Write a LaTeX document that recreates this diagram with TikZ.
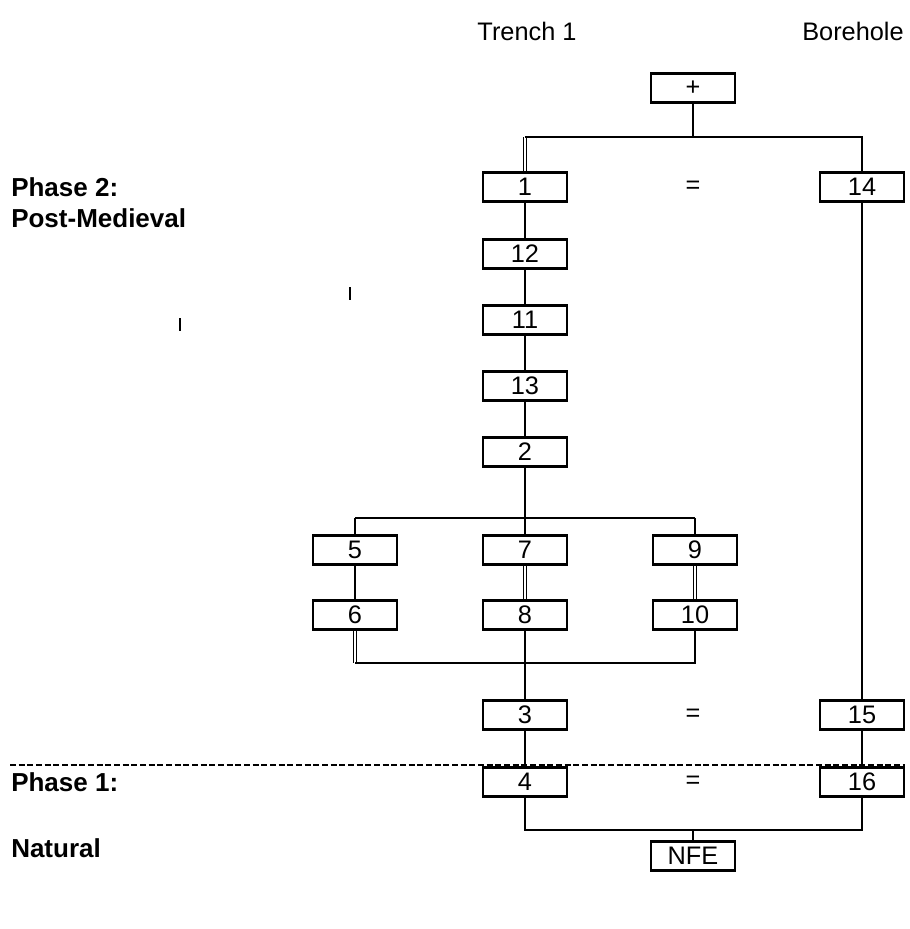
\documentclass[tikz,border=0pt]{standalone}
\usepackage{fontspec}
\setmainfont{Liberation Sans}
\begin{document}
\begin{tikzpicture}[x=0.75pt,y=-0.75pt,
  box/.style={draw,line width=2.2pt,minimum width=63pt,minimum height=22pt,inner sep=0pt,font=\fontsize{19}{22}\selectfont},
  lbl/.style={font=\fontsize{19}{22}\selectfont},
  phase/.style={font=\bfseries\fontsize{19.5}{22}\selectfont,anchor=west},
  conn/.style={line width=1.7pt},
  dbl/.style={line width=0.8pt,double,double distance=1.1pt}]
\useasboundingbox (0,0) rectangle (910,929);
% headers
\node[lbl] (t1) at (527,31) {Trench 1};
\node[lbl] (bh) at (853,31) {Borehole};
% phase labels
\node[phase,inner sep=0pt] (p2a) at (11,187) {Phase 2:};
\node[phase,inner sep=0pt] (p2b) at (11,218) {Post-Medieval};
\node[phase,inner sep=0pt] (p1) at (11,782) {Phase 1:};
\node[phase,inner sep=0pt] (nat) at (11,848) {Natural};
% boxes
\node[box] (plus) at (693,88) {+};
\node[box] (b1) at (525,187) {1};
\node[lbl] (eq1) at (693,187) {=};
\node[box] (b14) at (862,187) {14};
\node[box] (b12) at (525,254) {12};
\node[box] (b11) at (525,320) {11};
\node[box] (b13) at (525,386) {13};
\node[box] (b2) at (525,452) {2};
\node[box] (b5) at (355,550) {5};
\node[box] (b7) at (525,550) {7};
\node[box] (b9) at (695,550) {9};
\node[box] (b6) at (355,615) {6};
\node[box] (b8) at (525,615) {8};
\node[box] (b10) at (695,615) {10};
\node[box] (b3) at (525,715) {3};
\node[lbl] (eq2) at (693,715) {=};
\node[box] (b15) at (862,715) {15};
\node[box] (b4) at (525,782) {4};
\node[lbl] (eq3) at (693,782) {=};
\node[box] (b16) at (862,782) {16};
\node[box] (nfe) at (693,856) {NFE};
% junction coordinates
\coordinate (jtop) at (693,137);
\coordinate (jtopL) at (525,137);
\coordinate (jtopR) at (862,137);
\coordinate (jmid) at (525,518);
\coordinate (jmidL) at (355,518);
\coordinate (jmidR) at (695,518);
\coordinate (jlow) at (525,663);
\coordinate (jlowL) at (355,663);
\coordinate (jlowR) at (695,663);
\coordinate (jbot) at (693,830);
\coordinate (jbotL) at (525,830);
\coordinate (jbotR) at (862,830);
% connectors
\draw[conn] (plus.south) -- (jtop);
\draw[dbl] (jtopL) -- (b1.north);
\draw[conn] (jtopL) -- (jtopR) -- (b14.north);
\draw[conn] (b1) -- (b12);
\draw[conn] (b12) -- (b11);
\draw[conn] (b11) -- (b13);
\draw[conn] (b13) -- (b2);
\draw[conn] (b2.south) -- (jmid);
\draw[conn] (jmidL) -- (jmidR);
\draw[conn] (jmidL) -- (b5.north);
\draw[conn] (jmid) -- (b7.north);
\draw[conn] (jmidR) -- (b9.north);
\draw[conn] (b5) -- (b6);
\draw[dbl] (b7) -- (b8);
\draw[dbl] (b9) -- (b10);
\draw[dbl] (b6.south) -- (jlowL);
\draw[conn] (jlowL) -- (jlowR) -- (b10.south);
\draw[conn] (b8.south) -- (jlow) -- (b3.north);
\draw[conn] (b14) -- (b15);
\draw[conn] (b3) -- (b4);
\draw[conn] (b15) -- (b16);
\draw[conn] (b4.south) -- (jbotL) -- (jbotR) -- (b16.south);
\draw[conn] (jbot) -- (nfe.north);
% dashed phase divider
\coordinate (dl) at (10,765);
\coordinate (dr) at (905,765);
\draw[line width=1.7pt,dash pattern=on 4.5pt off 2pt] (dl) -- (dr);
% stray marks
\coordinate (s1a) at (350,287);
\coordinate (s1b) at (350,300);
\coordinate (s2a) at (180,318);
\coordinate (s2b) at (180,331);
\draw[line width=0.8pt] (s1a) -- (s1b);
\draw[line width=0.8pt] (s2a) -- (s2b);
\end{tikzpicture}
\end{document}
